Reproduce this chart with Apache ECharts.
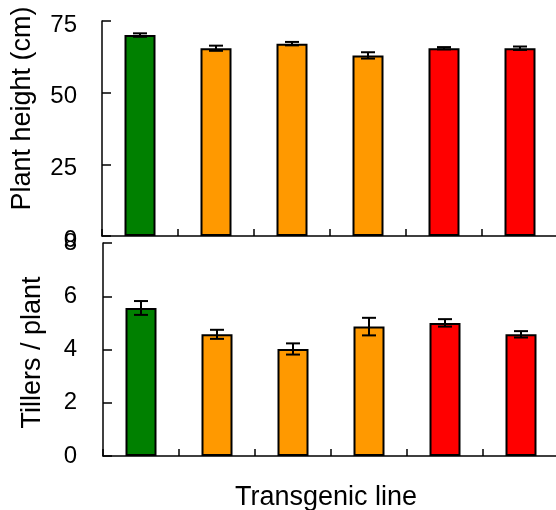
<!DOCTYPE html>
<html>
<head>
<meta charset="utf-8">
<script src="https://cdn.jsdelivr.net/npm/echarts@6/dist/echarts.min.js"></script>
<style>
html, body { margin: 0; padding: 0; background: #fff; }
#chart { width: 556px; height: 510px; }
</style>
</head>
<body>
<div id="chart"></div>
<script>
// transgenic lines (no tick labels shown in the figure)
var lines = ["WT", "O1", "O2", "O3", "R1", "R2"];
var barColors = ["#008000", "#ff9900", "#ff9900", "#ff9900", "#ff0000", "#ff0000"];

// plant height (cm), mean and SE
var heightMean = [70.1, 65.5, 67.1, 63.0, 65.5, 65.5];
var heightErr = [0.6, 0.9, 0.6, 1.1, 0.4, 0.6];

// tillers per plant, mean and SE
var tillerMean = [5.56, 4.57, 4.02, 4.86, 5.0, 4.57];
var tillerErr = [0.26, 0.17, 0.21, 0.33, 0.14, 0.12];

var heightTicks = { min: 0, max: 75, interval: 25 };
var tillerTicks = { min: 0, max: 8, interval: 2 };

var fontFam = "Liberation Sans, Arial, sans-serif";

function barData(values) {
  return values.map(function (v, i) {
    return { value: v, itemStyle: { color: barColors[i] } };
  });
}

function errData(mean, err) {
  return mean.map(function (m, i) {
    return [i, m - err[i], m + err[i]];
  });
}

// error bars drawn through the axes
function renderErr(params, api) {
  var x = api.value(0);
  var lo = api.coord([x, api.value(1)]);
  var hi = api.coord([x, api.value(2)]);
  var half = 7;
  var st = { stroke: "#000", lineWidth: 2 };
  return {
    type: "group",
    children: [
      { type: "line", shape: { x1: hi[0], y1: hi[1], x2: lo[0], y2: lo[1] }, style: st },
      { type: "line", shape: { x1: hi[0] - half, y1: hi[1], x2: hi[0] + half, y2: hi[1] }, style: st },
      { type: "line", shape: { x1: lo[0] - half, y1: lo[1], x2: lo[0] + half, y2: lo[1] }, style: st }
    ]
  };
}

function xAxisCfg(gi, name) {
  return {
    type: "category",
    gridIndex: gi,
    data: lines,
    boundaryGap: true,
    name: name,
    nameLocation: "middle",
    nameGap: 28,
    nameTextStyle: { color: "#000", fontSize: 27, fontFamily: fontFam, padding: [0, 10, 0, 0] },
    axisLine: { lineStyle: { color: "#000", width: 1.5 } },
    axisTick: { show: true, inside: true, length: 7, interval: 0, lineStyle: { color: "#000", width: 1.5 } },
    axisLabel: { show: false },
    splitLine: { show: false }
  };
}

function yAxisCfg(gi, name, ticks, gap, namePad, labelShift, margin) {
  return {
    type: "value",
    gridIndex: gi,
    min: ticks.min,
    max: ticks.max,
    interval: ticks.interval,
    name: name,
    nameLocation: "middle",
    nameRotate: 90,
    nameGap: gap,
    nameTextStyle: { color: "#000", fontSize: 27, fontFamily: fontFam, padding: namePad },
    axisLine: { show: true, lineStyle: { color: "#000", width: 1.5 } },
    axisTick: { show: true, inside: true, length: 9, lineStyle: { color: "#000", width: 1.5 } },
    axisLabel: {
      margin: margin,
      formatter: function (v) { return "{t|" + v + "}"; },
      rich: {
        t: { color: "#000", fontSize: 24, fontFamily: fontFam, padding: [labelShift, 0, 0, 0] }
      }
    },
    splitLine: { show: false }
  };
}

var chart = echarts.init(document.getElementById("chart"));
chart.setOption({
  animation: false,
  backgroundColor: "#fff",
  grid: [
    { left: 102, top: 21, width: 456, height: 215, outerBoundsMode: "none" },
    { left: 103, top: 243, width: 456, height: 213, outerBoundsMode: "none" }
  ],
  xAxis: [xAxisCfg(0, ""), xAxisCfg(1, "Transgenic line")],
  yAxis: [
    yAxisCfg(0, "Plant height (cm)", heightTicks, 66, [0, 0, 0, 40], 8, 25),
    yAxisCfg(1, "Tillers / plant", tillerTicks, 57, [0, 6, 0, 0], 0, 26)
  ],
  series: [
    {
      type: "bar", xAxisIndex: 0, yAxisIndex: 0, barWidth: 31,
      itemStyle: { borderColor: "#000", borderWidth: 2 },
      data: barData(heightMean)
    },
    {
      type: "custom", xAxisIndex: 0, yAxisIndex: 0, z: 5,
      renderItem: renderErr,
      data: errData(heightMean, heightErr)
    },
    {
      type: "bar", xAxisIndex: 1, yAxisIndex: 1, barWidth: 31,
      itemStyle: { borderColor: "#000", borderWidth: 2 },
      data: barData(tillerMean)
    },
    {
      type: "custom", xAxisIndex: 1, yAxisIndex: 1, z: 5,
      renderItem: renderErr,
      data: errData(tillerMean, tillerErr)
    }
  ]
});
</script>
</body>
</html>
